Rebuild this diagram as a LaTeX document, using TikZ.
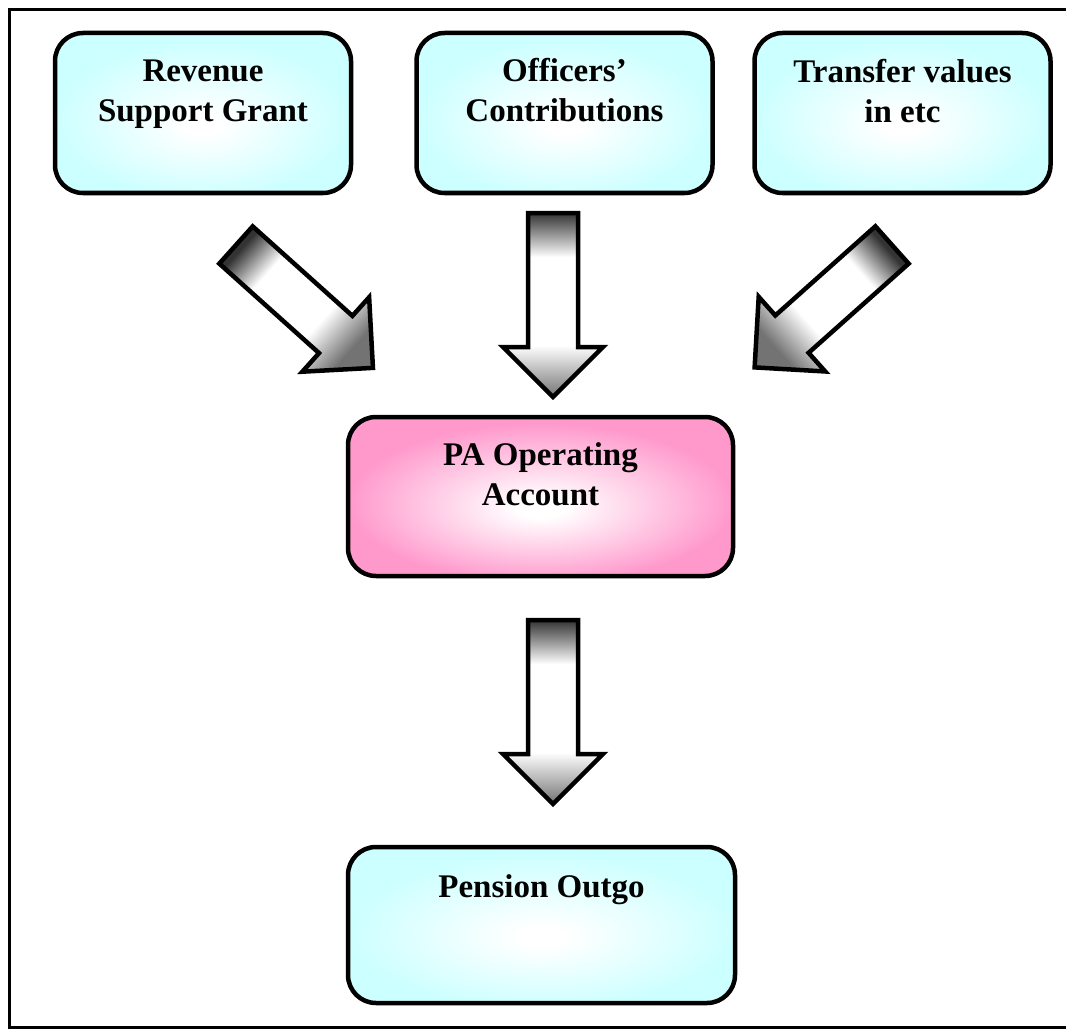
\documentclass[tikz,border=0pt]{standalone}
\usepackage{fontspec}
\setmainfont{Liberation Serif}
\usetikzlibrary{calc}
\definecolor{boxcyan}{RGB}{204,255,255}
\definecolor{boxpink}{RGB}{255,153,204}
\pgfdeclareradialshading{cyanshade}{\pgfpoint{0bp}{-4bp}}{color(0bp)=(white); color(3bp)=(white); color(25bp)=(boxcyan); color(50bp)=(boxcyan)}
\pgfdeclareradialshading{pinkshade}{\pgfpoint{0bp}{-4bp}}{color(0bp)=(white); color(3bp)=(white); color(25bp)=(boxpink); color(50bp)=(boxpink)}
\pgfdeclarehorizontalshading{arrowshade}{100bp}{color(0bp)=(black!80); color(25bp)=(black!80); color(37bp)=(white); color(61bp)=(white); color(75bp)=(black!55); color(100bp)=(black!55)}
\tikzset{
  box/.style={draw=black, line width=4.5pt, rounded corners=28pt, minimum width=296pt, minimum height=160pt, inner sep=0pt},
  cyanbox/.style={box, shade, shading=cyanshade},
  pinkbox/.style={box, shade, shading=pinkshade},
  txt/.style={font=\bfseries\fontsize{33}{40}\selectfont, align=center, inner sep=0pt},
  blockarrow/.style={draw=black, line width=4.5pt, line join=miter, shade, shading=arrowshade},
}
\begin{document}
\begin{tikzpicture}[x=1pt, y=-1pt]
\useasboundingbox (0,0) rectangle (1066,1030);
\fill[white] (0,0) rectangle (1066,1030);
\draw[line width=3.5pt] (9.5,9.5) rectangle (1090,1027.5);

% boxes
\node[cyanbox] (rsg) at (203,113) {};
\node[cyanbox] (oc) at (564.5,113) {};
\node[cyanbox] (tv) at (902.5,113) {};
\node[pinkbox, minimum width=385pt, minimum height=159pt] (pa) at (540.5,496.5) {};
\node[cyanbox, minimum width=387pt, minimum height=156pt] (po) at (541.5,925) {};

% texts (base = baseline of last line)
\node[txt, anchor=base] (rsgt) at (203,122) {Revenue\\Support Grant};
\node[txt, anchor=base] (oct) at (564.5,122) {Officers’\\Contributions};
\node[txt, anchor=base] (tvt) at (902.5,123) {Transfer values\\in etc};
\node[txt, anchor=base] (pat) at (540.5,505) {PA Operating\\Account};
\node[txt, anchor=base] (pot) at (541.5,897) {Pension Outgo};

% block arrows
\begin{scope}[shift={(236,245)}, rotate=-41.9]
  \path[blockarrow, shading angle=-41.9] (0,25) -- (134,25) -- (134,50) -- (184,0) -- (134,-50) -- (134,-25) -- (0,-25) -- cycle;
\end{scope}
\begin{scope}[shift={(553,213)}, rotate=-90]
  \path[blockarrow, shading angle=-90] (0,25) -- (134,25) -- (134,50) -- (184,0) -- (134,-50) -- (134,-25) -- (0,-25) -- cycle;
\end{scope}
\begin{scope}[shift={(892,245)}, rotate=-138.3]
  \path[blockarrow, shading angle=-138.3] (0,25) -- (134,25) -- (134,50) -- (184,0) -- (134,-50) -- (134,-25) -- (0,-25) -- cycle;
\end{scope}
\begin{scope}[shift={(553,620)}, rotate=-90]
  \path[blockarrow, shading angle=-90] (0,25) -- (134,25) -- (134,50) -- (184,0) -- (134,-50) -- (134,-25) -- (0,-25) -- cycle;
\end{scope}
\end{tikzpicture}
\end{document}
